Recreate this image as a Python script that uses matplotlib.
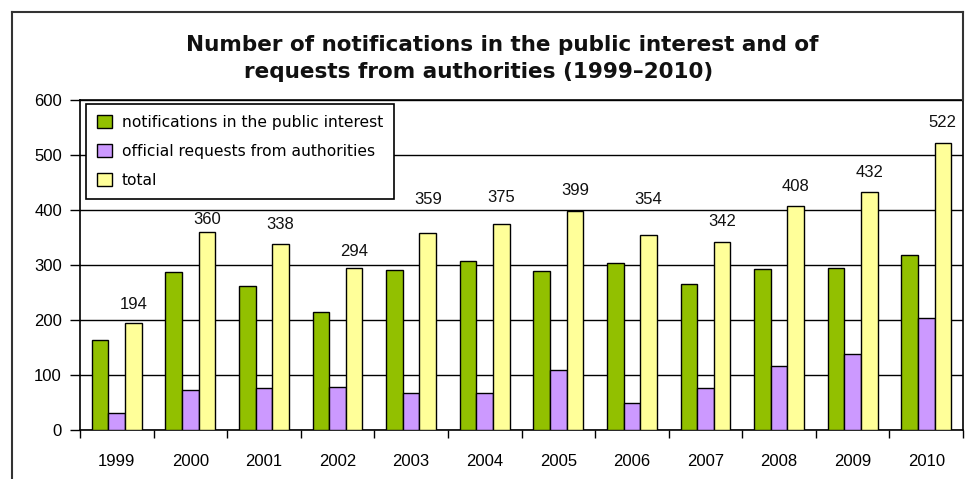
"""Notifications in the public interest vs official requests, 1999-2010."""

import matplotlib
matplotlib.use("Agg")
import matplotlib.pyplot as plt
import numpy as np
from matplotlib.lines import Line2D
from matplotlib.patches import Patch

years = ["1999", "2000", "2001", "2002", "2003", "2004",
         "2005", "2006", "2007", "2008", "2009", "2010"]
public_interest = [163, 288, 262, 215, 291, 307, 290, 304, 266, 292, 294, 318]
official_requests = [31, 72, 76, 79, 68, 68, 109, 50, 76, 116, 138, 204]
total = [194, 360, 338, 294, 359, 375, 399, 354, 342, 408, 432, 522]

# label lift above each total bar, in pixels (labels were nudged by hand in the original)
label_lift_px = [19, 12, 20, 17, 33, 26, 20, 36, 20, 19, 20, 20]

GREEN = "#92c000"
PURPLE = "#cc99ff"
YELLOW = "#ffff99"
NUM_FONT = "Liberation Sans"

W, H = 969, 479
fig = plt.figure(figsize=(W / 100, H / 100), dpi=100)
ax = fig.add_axes([80 / W, 1 - 430 / H, 883 / W, 330 / H])

x = np.arange(len(years))
w = 0.226
bar_kw = dict(width=w, edgecolor="black", linewidth=1.0, zorder=3)
ax.bar(x - w, public_interest, color=GREEN, **bar_kw)
ax.bar(x, official_requests, color=PURPLE, **bar_kw)
ax.bar(x + w, total, color=YELLOW, **bar_kw)

for xi, val, lift in zip(x, total, label_lift_px):
    ax.annotate(str(val), (xi + w, val), xytext=(0, lift * 0.72), textcoords="offset points",
                ha="center", va="center", fontsize=12, family=NUM_FONT, color="#111111")

ax.set_xlim(-0.5, len(years) - 0.5)
ax.set_ylim(0, 600)
ax.set_yticks(range(0, 601, 100))
ax.set_yticklabels([str(v) for v in range(0, 601, 100)], family=NUM_FONT, fontsize=12)
ax.set_xticks(x)
ax.set_xticklabels(years, family=NUM_FONT, fontsize=12)
ax.set_xticks(np.arange(-0.5, len(years)), minor=True)
ax.tick_params(axis="x", which="major", length=0, pad=17)
ax.tick_params(axis="x", which="minor", length=6, width=1, direction="out")
ax.tick_params(axis="y", length=7, width=1, direction="out", pad=6)

ax.set_axisbelow(True)
ax.yaxis.grid(True, color="black", linewidth=1.0)
for sp in ax.spines.values():
    sp.set_color("black")
    sp.set_linewidth(1.2)

handles = [
    Patch(facecolor=GREEN, edgecolor="black", label="notifications in the public interest"),
    Patch(facecolor=PURPLE, edgecolor="black", label="official requests from authorities"),
    Patch(facecolor=YELLOW, edgecolor="black", label="total"),
]
leg = ax.legend(handles=handles, loc="upper left", bbox_to_anchor=(6 / 883, 1 - 4 / 330),
                borderaxespad=0, fancybox=False, edgecolor="black", framealpha=1,
                fontsize=11.2, handlelength=0.92, handleheight=0.92, handletextpad=0.65,
                labelspacing=0.88, borderpad=0.72)
leg.get_frame().set_linewidth(1.2)

fig.text(502 / W, 1 - 45 / H, "Number of notifications in the public interest and of",
         ha="center", va="center", fontsize=15.5, fontweight="bold", color="#111111")
fig.text(479 / W, 1 - 72 / H, "requests from authorities (1999\u20132010)",
         ha="center", va="center", fontsize=15.5, fontweight="bold", color="#111111")

# outer chart-area frame
frame_kw = dict(color="#333333", linewidth=1.5, transform=fig.transFigure)
fig.add_artist(Line2D([12 / W, 12 / W], [0, 1 - 12 / H], **frame_kw))
fig.add_artist(Line2D([12 / W, 963 / W], [1 - 12 / H, 1 - 12 / H], **frame_kw))
fig.add_artist(Line2D([963 / W, 963 / W], [1 - 12 / H, 1 - 100 / H], **frame_kw))

fig.savefig("out.png", dpi=100)
